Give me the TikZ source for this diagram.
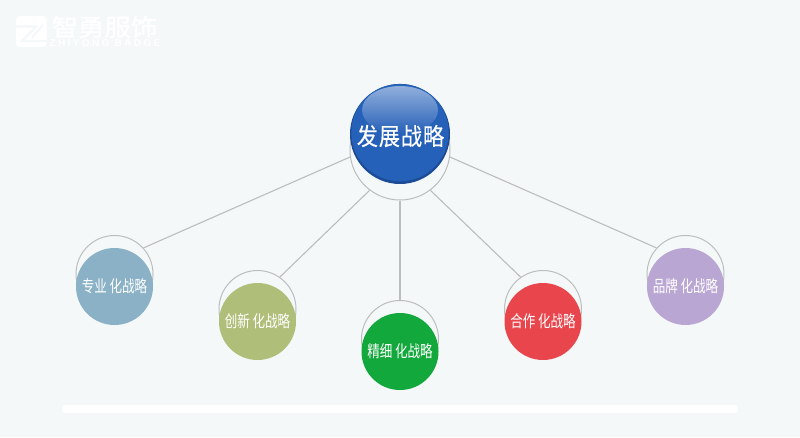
\documentclass[tikz,border=0pt]{standalone}
\usepackage{fontspec}
\usetikzlibrary{positioning, fadings}
\newfontfamily\cjk[FakeStretch=0.76]{Noto Sans CJK SC}
\newfontfamily\cjkmain[FakeStretch=0.88,LetterSpace=4,FakeBold=0.4]{Noto Sans CJK SC}
\newfontfamily\cjklogo[FakeStretch=1.1,FakeBold=1.5]{Noto Sans CJK SC}
\newfontfamily\latlogo[LetterSpace=24]{Liberation Sans}
\definecolor{bgcol}{HTML}{F4F8F9}
\definecolor{ringcol}{HTML}{BDBDBD}
\definecolor{ballcol}{HTML}{2661B9}
\definecolor{ballrim}{HTML}{1C4C96}
\definecolor{bluecol}{HTML}{8AB1C6}
\definecolor{olivecol}{HTML}{AFBF79}
\definecolor{greencol}{HTML}{12A83C}
\definecolor{redcol}{HTML}{E8464C}
\definecolor{purplecol}{HTML}{B9A6D3}
\tikzfading[name=glossfade, top color=transparent!50, bottom color=transparent!100]
\tikzset{
  ring/.style={circle, draw=ringcol, line width=1pt, minimum size=77pt, inner sep=0pt},
  bigring/.style={ring, minimum size=100pt},
  ball/.style={circle, minimum size=77pt, inner sep=0pt, text=white,
    font=\fontsize{16.5}{17}\selectfont\cjk},
  link/.style={draw=ringcol, line width=1.1pt},
}
\begin{document}
\begin{tikzpicture}[x=1pt,y=-1pt]
  \useasboundingbox[fill=bgcol] (0,0) rectangle (800,437);
  \fill[white, rounded corners=3pt] (62,405) rectangle (738,413);

  % logo
  \fill[white, rounded corners=4pt] (16,16) rectangle (46.5,47);
  \draw[bgcol, line width=2.2pt] (15,26.5) -- (36,26.5) -- (22,41) -- (47,41);
  \draw[bgcol, line width=2pt] (43,25) -- (32,37.5);
  \node (logotext) at (104.5,27) [text=white, inner sep=0pt, font=\fontsize{24}{24}\selectfont\cjklogo] {智勇服饰};
  \node (logosub) at (105,43) [text=white, inner sep=0pt, font=\fontsize{10}{10}\selectfont\bfseries\latlogo] {ZHIYONG BADGE};

  \node (r0) [bigring] at (400,150) {};
  \node (r1) [ring] at (114.5,274) {};
  \node (r2) [ring] at (257.5,309) {};
  \node (r3) [ring] at (400,339) {};
  \node (r4) [ring] at (543,309) {};
  \node (r5) [ring] at (685.5,274) {};

  \path[link] (r0.188) edge (r1.42)
	      (r0.233) edge (r2.55)
	      (r0.270) edge (r3.90)
	      (r0.307) edge (r4.125)
	      (r0.352) edge (r5.138);

  % main ball
  \node (main) [circle, fill=ballrim, minimum size=100pt, inner sep=0pt] at (400,134) {};
  \fill[ballcol] (400,132.6) circle (48.7pt);
  \fill[white, path fading=glossfade] (400,110) ellipse (38pt and 24pt);
  \node (maintext) at (400.5,136) [text=white, inner sep=0pt, font=\fontsize{24}{24}\selectfont\cjkmain] {发展战略};

  \node (b1) [ball, fill=bluecol] at (114.5,286.5) {专业\,化战略};
  \node (b2) [ball, fill=olivecol] at (257.5,321.5) {创新\,化战略};
  \node (b3) [ball, fill=greencol] at (400,351.5) {精细\,化战略};
  \node (b4) [ball, fill=redcol] at (543,321.5) {合作\,化战略};
  \node (b5) [ball, fill=purplecol] at (685.5,286.5) {品牌\,化战略};
\end{tikzpicture}
\end{document}
